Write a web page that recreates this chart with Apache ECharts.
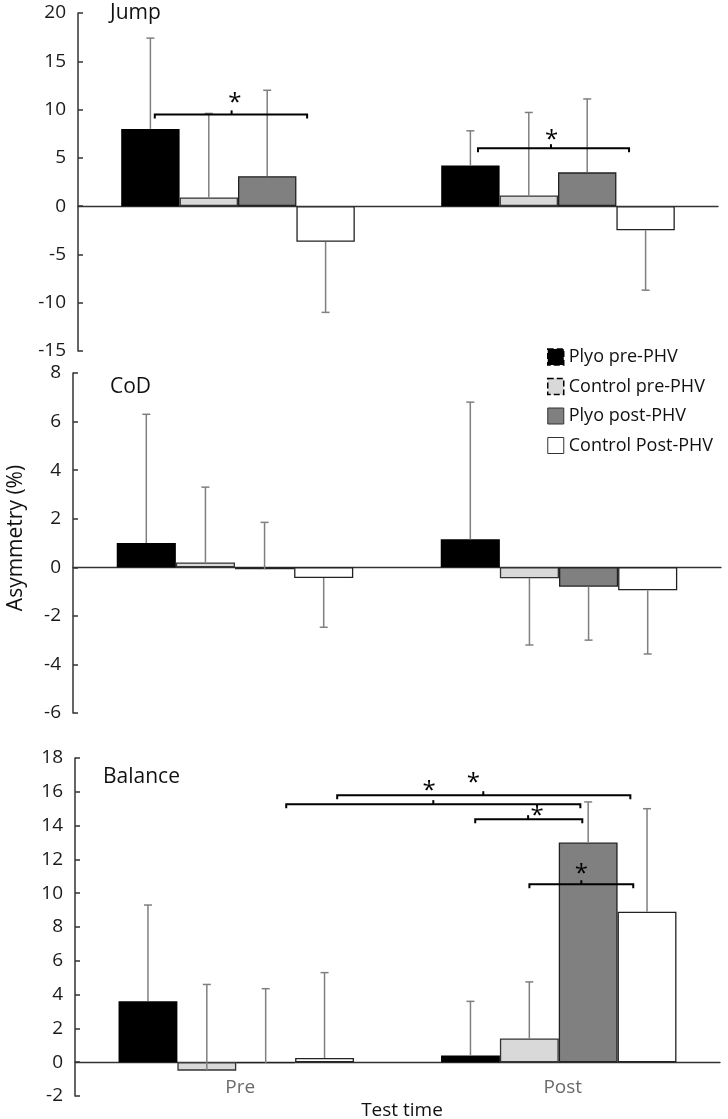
<!DOCTYPE html>
<html>
<head>
<meta charset="utf-8">
<script src="https://cdn.jsdelivr.net/npm/echarts@6/dist/echarts.min.js"></script>
<style>
  html, body { margin: 0; padding: 0; background: #fff; }
  #chart { width: 728px; height: 1119px; }
</style>
</head>
<body>
<div id="chart"></div>
<script>
// categories and groups
const categories = ["Pre", "Post"];
const groupNames = ["Plyo pre-PHV", "Control pre-PHV", "Plyo post-PHV", "Control Post-PHV"];

// means per group: [Pre, Post]
const jumpMean = [[8.0, 4.2], [0.9, 1.1], [3.1, 3.5], [-3.7, -2.5]];
const codMean = [[1.0, 1.15], [0.2, -0.45], [-0.08, -0.8], [-0.44, -0.95]];
const balanceMean = [[3.6, 0.4], [-0.5, 1.4], [-0.05, 13.0], [0.25, 8.9]];

// where each error bar ends
const jumpErrEnd = [[17.4, 7.8], [9.6, 9.7], [12.0, 11.1], [-11.0, -8.7]];
const codErrEnd = [[6.3, 6.8], [3.3, -3.2], [1.85, -3.0], [-2.47, -3.57]];
const balanceErrEnd = [[9.3, 3.6], [4.6, 4.75], [4.35, 15.4], [5.3, 15.0]];

// y axis ranges [min, max, interval]
const jumpRange = [-15, 20, 5];
const codRange = [-6, 8, 2];
const balanceRange = [-2, 18, 2];

// significance brackets: [left, right, tick, y] (x in category units from "Pre" centre)
const jumpBrackets = [[-0.26, 0.216, -0.02, 9.5], [0.75, 1.222, 0.978, 6.0]];
const jumpStars = [[-0.01, 11.3], [0.98, 7.45]];
const codBrackets = [];
const codStars = [];
const balanceBrackets = [
  [0.313, 1.222, 0.766, 15.8],
  [0.155, 1.067, 0.611, 15.27],
  [0.741, 1.073, 0.905, 14.38],
  [0.909, 1.231, 1.07, 10.53]
];
const balanceStars = [[0.735, 16.86], [0.598, 16.4], [0.933, 14.9], [1.07, 11.5]];

const barColors = ["#000000", "#d9d9d9", "#808080", "#ffffff"];
const barBorders = ["#000000", "#333333", "#222222", "#222222"];
const catGap = 0.27;
const font = "Open Sans";

const panels = [
  { title: "Jump", mean: jumpMean, err: jumpErrEnd, range: jumpRange, brackets: jumpBrackets, stars: jumpStars,
    grid: { left: 78, right: 10, top: 13, height: 338 }, title_xy: [110, 3] },
  { title: "CoD", mean: codMean, err: codErrEnd, range: codRange, brackets: codBrackets, stars: codStars,
    grid: { left: 73, right: 7, top: 373, height: 340 }, title_xy: [110, 377] },
  { title: "Balance", mean: balanceMean, err: balanceErrEnd, range: balanceRange, brackets: balanceBrackets, stars: balanceStars,
    grid: { left: 75, right: 8, top: 758, height: 338 }, title_xy: [103, 767] }
];

const grids = [], xAxes = [], yAxes = [], series = [], graphics = [];

panels.forEach((p, k) => {
  grids.push(Object.assign({ outerBoundsMode: "none", containLabel: false }, p.grid));
  xAxes.push({
    type: "category", gridIndex: k, data: categories,
    axisLine: { onZero: true, lineStyle: { color: "#333", width: 1.3 } },
    axisTick: { show: false },
    axisLabel: { show: false }
  });
  yAxes.push({
    type: "value", gridIndex: k, min: p.range[0], max: p.range[1], interval: p.range[2],
    splitLine: { show: false },
    axisLine: { show: true, onZero: false, lineStyle: { color: "#333", width: 1.5 } },
    axisTick: { show: true, inside: true, length: 5, lineStyle: { color: "#333", width: 1.5 } },
    axisLabel: { color: "#1a1a1a", fontSize: 19, fontFamily: font, margin: 12 }
  });

  p.mean.forEach((vals, i) => {
    series.push({
      type: "bar", name: groupNames[i], xAxisIndex: k, yAxisIndex: k, data: vals,
      barGap: "0%", barCategoryGap: (catGap * 100) + "%", z: 2,
      itemStyle: { color: barColors[i], borderColor: barBorders[i], borderWidth: i === 0 ? 0 : 1.3 }
    });
  });

  const errData = [];
  p.mean.forEach((vals, i) => {
    vals.forEach((m, c) => errData.push([c, p.err[i][c], m, i]));
  });
  series.push({
    type: "custom", xAxisIndex: k, yAxisIndex: k, z: 3, data: errData, silent: true,
    renderItem: function (params, api) {
      const c = api.value(0), end = api.value(1), m = api.value(2), i = api.value(3);
      const bw = api.size([1, 0])[0] * (1 - catGap) / 4;
      const pm = api.coord([c, m]);
      const pe = api.coord([c, end]);
      const x = pm[0] + (i - 1.5) * bw;
      const st = { stroke: "#7f7f7f", lineWidth: 1.5 };
      return {
        type: "group", children: [
          { type: "line", shape: { x1: x, y1: pm[1], x2: x, y2: pe[1] }, style: st },
          { type: "line", shape: { x1: x - 4, y1: pe[1], x2: x + 4, y2: pe[1] }, style: st }
        ]
      };
    }
  });

  series.push({
    type: "custom", xAxisIndex: k, yAxisIndex: k, z: 4, silent: true,
    data: p.brackets.map(b => [0, b[3], b[0], b[1], b[2]]),
    renderItem: function (params, api) {
      const base = api.coord([0, api.value(1)]);
      const cw = api.size([1, 0])[0];
      const x1 = base[0] + api.value(2) * cw;
      const x2 = base[0] + api.value(3) * cw;
      const xt = base[0] + api.value(4) * cw;
      const y = base[1];
      const st = { stroke: "#000", lineWidth: 2, fill: null };
      return {
        type: "group", children: [
          { type: "polyline", shape: { points: [[x1, y + 4], [x1, y], [x2, y], [x2, y + 4]] }, style: st },
          { type: "line", shape: { x1: xt, y1: y, x2: xt, y2: y - 4 }, style: st }
        ]
      };
    }
  });

  series.push({
    type: "custom", xAxisIndex: k, yAxisIndex: k, z: 5, silent: true,
    data: p.stars.map(s => [0, s[1], s[0]]),
    renderItem: function (params, api) {
      const base = api.coord([0, api.value(1)]);
      const cw = api.size([1, 0])[0];
      return {
        type: "text",
        style: {
          x: base[0] + api.value(2) * cw, y: base[1] + 6, text: "*",
          fill: "#000", font: "24px " + font, textAlign: "center", textVerticalAlign: "middle"
        }
      };
    }
  });

  graphics.push({
    type: "text", left: p.title_xy[0], top: p.title_xy[1],
    style: { text: p.title, fill: "#111", font: "21px " + font }
  });
});

// category labels under the zero line of the Balance panel
series.push({
  type: "custom", xAxisIndex: 2, yAxisIndex: 2, z: 5, silent: true,
  data: categories.map((c, i) => [i, 0]),
  renderItem: function (params, api) {
    const pt = api.coord([api.value(0), 0]);
    return {
      type: "text",
      style: {
        x: pt[0] + 4, y: pt[1] + 25, text: categories[params.dataIndex],
        fill: "#6b6b6b", font: "19px " + font, textAlign: "center", textVerticalAlign: "middle"
      }
    };
  }
});

graphics.push({
  type: "text", x: 16, y: 538, rotation: Math.PI / 2,
  style: { text: "Asymmetry (%)", fill: "#111", font: "21px " + font, textAlign: "center", textVerticalAlign: "middle" }
});
graphics.push({
  type: "text", x: 402, y: 1111,
  style: { text: "Test time", fill: "#111", font: "19px " + font, textAlign: "center", textVerticalAlign: "middle" }
});

const legendStyles = [
  { color: "#000", borderColor: "#000", borderWidth: 1.5, borderType: "dashed" },
  { color: "#d9d9d9", borderColor: "#000", borderWidth: 1.5, borderType: "dashed" },
  { color: "#808080", borderColor: "#333", borderWidth: 1 },
  { color: "#fff", borderColor: "#333", borderWidth: 1 }
];

const chart = echarts.init(document.getElementById("chart"), null, { renderer: "canvas" });
chart.setOption({
  animation: false,
  backgroundColor: "#fff",
  grid: grids,
  xAxis: xAxes,
  yAxis: yAxes,
  legend: {
    orient: "vertical", left: 547, top: 348, padding: 0,
    itemWidth: 16, itemHeight: 16, itemGap: 11.5,
    icon: "rect",
    textStyle: { fontSize: 18, color: "#111", fontFamily: font },
    data: groupNames.map((n, i) => ({ name: n, itemStyle: legendStyles[i] }))
  },
  graphic: graphics,
  series: series
});
</script>
</body>
</html>
